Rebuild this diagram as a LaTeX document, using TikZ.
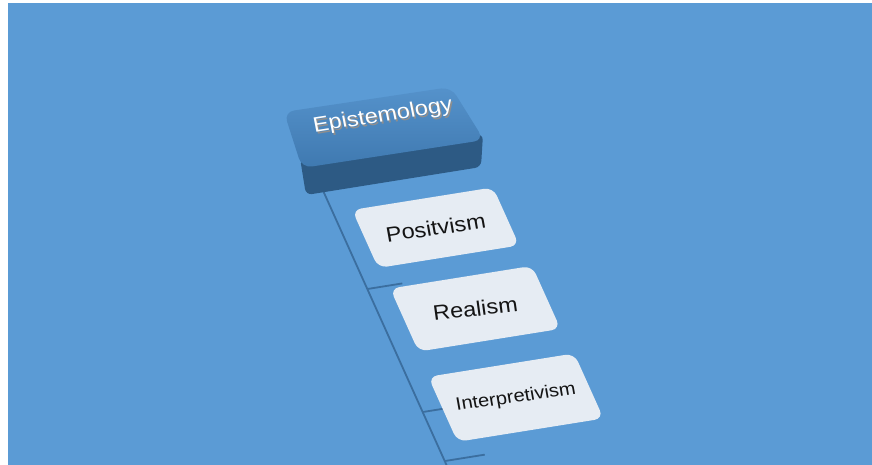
\documentclass[tikz,border=0pt]{standalone}
\usepackage{fontspec}
\setmainfont{Liberation Sans}
\usetikzlibrary{positioning,calc}

\definecolor{slidebg}{HTML}{5B9BD5}
\definecolor{cardfill}{HTML}{E6ECF3}
\definecolor{cardink}{HTML}{141414}
\definecolor{trunkline}{HTML}{3B6E9F}
\definecolor{keytopA}{HTML}{5592CB}
\definecolor{keytopB}{HTML}{3F79B0}
\definecolor{keyfront}{HTML}{2D5A84}
\definecolor{keyshade}{HTML}{8E8E8E}

\begin{document}
\begin{tikzpicture}[x=1pt, y=-1pt]
        % Define styles
        \tikzset{
            card/.style={fill=cardfill, rounded corners=9pt, transform shape, inner sep=0pt},
            cardtext/.style={text=cardink, xscale=1.12},
            trunk/.style={draw=trunkline, line width=1.8pt},
            keytext/.style={font=\fontsize{21}{25}\selectfont, xscale=1.12, rotate=10}
        }

        % Slide background
        \useasboundingbox (0,0) rectangle (872,465);
        \fill[slidebg] (8,3) rectangle (872,465);

        % Tilted board below the key
        \begin{scope}[cm={1,0.16,-0.45,1,(325,195)}]
            \node[coordinate] (trunktop) at (0,-10) {};
            \node[coordinate] (trunkend) at (0,276) {};
            \node[coordinate] (fork1) at (0,94) {};
            \node[coordinate] (tip1) at (35,94) {};
            \node[coordinate] (fork2) at (0,217) {};
            \node[coordinate] (tip2) at (30,217) {};
            \node[coordinate] (fork3) at (0,266) {};
            \node[coordinate] (tip3) at (40,266) {};

            \draw[trunk] (trunktop) -- (trunkend);
            \draw[trunk] (fork1) -- (tip1);
            \draw[trunk] (fork2) -- (tip2);
            \draw[trunk] (fork3) -- (tip3);

            \node[card, minimum width=141pt, minimum height=58pt] (positivism) at (89.5,47) {};
            \node[card, minimum width=142pt, minimum height=63pt] (realism) at (92.5,128.5) {};
            \node[card, minimum width=146pt, minimum height=65pt] (interpretivism) at (93,217.5) {};

            \node[cardtext, rotate=9, font=\fontsize{21}{25}\selectfont] (positivism text) at (positivism) {Positvism};
            \node[cardtext, rotate=7, font=\fontsize{21}{25}\selectfont] (realism text) at (realism) {Realism};
            \node[cardtext, rotate=9, font=\fontsize{18}{22}\selectfont] (interpretivism text) at (interpretivism) {Interpretivism};
        \end{scope}

        % The key
        \fill[keyfront, rounded corners=6pt] (300,158) -- (483,134) -- (481,167) -- (306,195) -- cycle;
        \shade[top color=keytopA, bottom color=keytopB, rounded corners=10pt]
            (284,112) -- (451,87) -- (484,140) -- (302,168) -- cycle;

        % Raised label
        \node[keytext, text=keyshade] (epishade) at (384.5,118) {Epistemology};
        \node[keytext, text=white] (epistemology) at (383,116) {Epistemology};
    \end{tikzpicture}
\end{document}
